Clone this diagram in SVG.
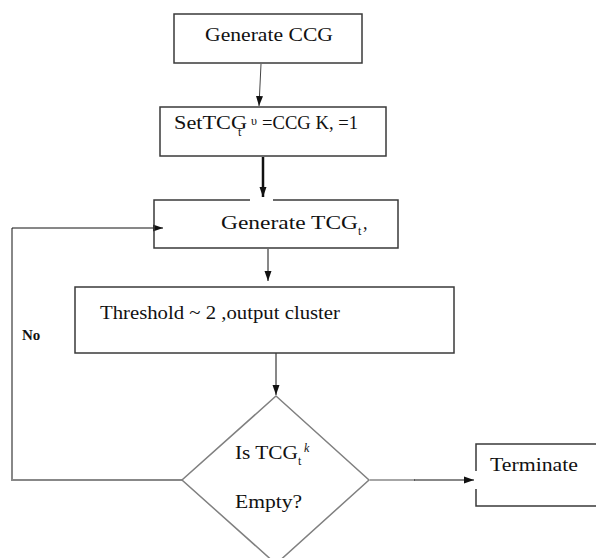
<svg xmlns="http://www.w3.org/2000/svg" width="596" height="558" viewBox="0 0 596 558">
<style>
.box{fill:none;stroke:#3a3a3a;stroke-width:1.5}
.dia{fill:none;stroke:#808080;stroke-width:1.5}
text{font-family:'Liberation Serif','DejaVu Serif',serif;fill:#111}
.t{font-size:18px}
.s{font-size:12px}
.b{font-size:15px;font-weight:bold}
.c{fill:none;stroke:#111;stroke-width:1}
.g{fill:none;stroke:#888;stroke-width:2}
</style>
<defs>
<marker id="ah" markerUnits="userSpaceOnUse" markerWidth="10" markerHeight="10" viewBox="0 0 10 10" refX="10" refY="5" orient="auto">
<path d="M0,1.5 L10,5 L0,8.5 Z" fill="#111"/>
</marker>
</defs>
<rect width="596" height="558" fill="#fff"/>
<g id="connectors">
<line class="c" x1="261" y1="64" x2="259" y2="106" marker-end="url(#ah)" style="stroke:#444"/>
<line class="c" x1="263" y1="157" x2="263" y2="197" marker-end="url(#ah)" style="stroke-width:2.5"/>
<line class="c" x1="268" y1="249" x2="268" y2="281" marker-end="url(#ah)"/>
<line class="c" x1="276" y1="353" x2="276" y2="395" marker-end="url(#ah)"/>
<polyline class="g" points="182,480 12,480 12,228"/>
<line class="c" x1="12" y1="228" x2="163" y2="228" marker-end="url(#ah)"/>
<line class="g" x1="370" y1="480" x2="415" y2="480" style="stroke-width:1.5"/>
<line class="c" x1="414" y1="480" x2="474" y2="480" marker-end="url(#ah)"/>
<text class="b" x="22" y="340">No</text>
</g>
<g id="generate-ccg">
<rect class="box" x="174" y="14" width="188" height="49"/>
<text class="t" x="205" y="41" textLength="128" lengthAdjust="spacingAndGlyphs">Generate CCG</text>
</g>
<g id="set-tcg">
<rect class="box" x="160" y="107" width="226" height="49"/>
<text class="t" x="174" y="129" textLength="73" lengthAdjust="spacingAndGlyphs">SetTCG</text>
<text class="s" x="238" y="136">t</text>
<text class="s" x="251" y="125">υ</text>
<text class="t" x="262" y="129" textLength="96" lengthAdjust="spacingAndGlyphs">=CCG K, =1</text>
</g>
<g id="generate-tcg">
<path class="box" d="M250,200 H154 V248 H398 V200 H273"/>
<text class="t" x="221" y="229" textLength="137" lengthAdjust="spacingAndGlyphs">Generate TCG</text>
<text class="s" x="358" y="235">t</text>
<text class="t" x="363" y="229">,</text>
</g>
<g id="threshold">
<rect class="box" x="75" y="287" width="379" height="66"/>
<text class="t" x="100" y="319" textLength="240" lengthAdjust="spacingAndGlyphs">Threshold ~ 2 ,output cluster</text>
</g>
<g id="decision">
<polygon class="dia" points="276,396 369,480 276,564 182,480"/>
<text class="t" x="235" y="459" textLength="63" lengthAdjust="spacingAndGlyphs">Is TCG</text>
<text class="s" x="298" y="465">t</text>
<text class="s" x="304" y="452" style="font-style:italic">k</text>
<text class="t" x="235" y="508" textLength="67" lengthAdjust="spacingAndGlyphs">Empty?</text>
</g>
<g id="terminate">
<path class="box" d="M596,444 H476 V471 M476,489 V506 H596"/>
<text class="t" x="490" y="471" textLength="88" lengthAdjust="spacingAndGlyphs">Terminate</text>
</g>
</svg>
